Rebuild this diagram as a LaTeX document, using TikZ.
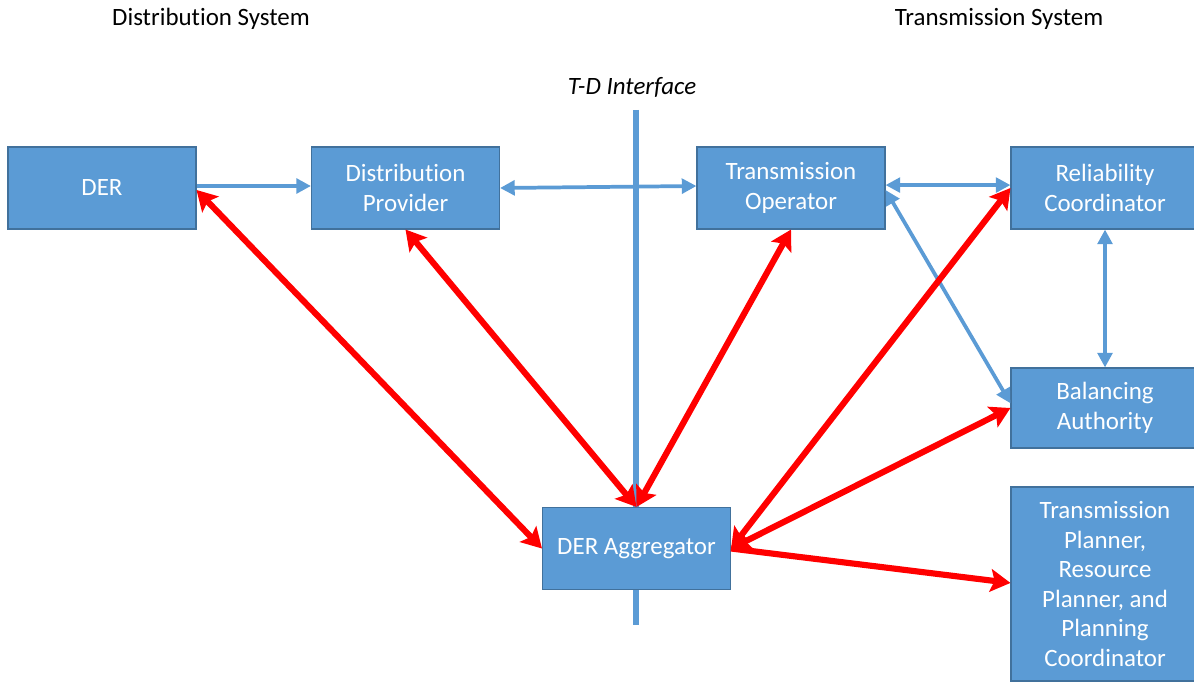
\documentclass[tikz,border=0pt]{standalone}
\usepackage{fontspec}
\setmainfont{Carlito}[Ligatures=NoCommon]
\usetikzlibrary{arrows.meta}
\definecolor{boxblue}{HTML}{5B9BD5}
\definecolor{boxedge}{HTML}{41719C}
\definecolor{linkred}{HTML}{FF0000}
\begin{document}
\begin{tikzpicture}[x=0.75pt,y=-0.75pt,
  box/.style={draw=boxedge,line width=0.8pt,fill=boxblue,text=white,
    minimum width=141pt,minimum height=61.5pt,inner sep=0pt,align=center,
    font=\fontsize{18.7}{22.2}\selectfont},
  head/.style={font=\fontsize{18.7}{22.2}\selectfont,inner sep=0pt},
  bluelink/.style={draw=boxblue,line width=2.8pt},
  bluetip/.style={-{Triangle[length=11pt,width=11pt]}},
  bluetips/.style={{Triangle[length=11pt,width=11pt]}-{Triangle[length=11pt,width=11pt]}},
  redlink/.style={draw=linkred,line width=4.6pt},
  redtip/.style={-{Stealth[length=15pt,width=17pt,inset=3pt]}},
  redtips/.style={{Stealth[length=15pt,width=17pt,inset=3pt]}-{Stealth[length=15pt,width=17pt,inset=3pt]}}]
\useasboundingbox (0,0) rectangle (1194,681);

\node[head] (dsys) at (211,19) {Distribution System};
\node[head] (tsys) at (999,19) {Transmission System};
\node[head,font=\fontsize{18.7}{22.2}\selectfont\itshape] (tdlab) at (632,87) {T-D Interface};

\coordinate (tdtop) at (636,110);
\coordinate (tdbot) at (636,625);
\draw[draw=boxblue,line width=4.2pt] (tdtop) -- (tdbot);

\node[box] (der) at (102,188) {DER};
\node[box] (dp) at (405.5,188) {Distribution\\Provider};
\node[box] (to) at (791,188) {Transmission\\Operator};
\node[box] (rc) at (1105,188) {Reliability\\Coordinator};
\node[box,minimum height=60pt] (ba) at (1105,408) {Balancing\\Authority};
\node[box,minimum height=145.5pt] (tp) at (1105,584) {Transmission\\Planner,\\Resource\\Planner, and\\Planning\\Coordinator};
\node[box] (agg) at (636.5,548.5) {DER Aggregator};

% blue connectors
\draw[bluelink,bluetip] ([yshift=1.5pt]der.east) -- ([yshift=1.5pt]dp.west);
\draw[bluelink,bluetips] (dp.east) -- ([yshift=1.5pt]to.west);
\draw[bluelink,bluetips] ([yshift=2.2pt]to.east) -- ([yshift=2.2pt]rc.west);
\draw[bluelink,bluetips] ([yshift=-1.5pt]to.east) -- ([yshift=3.5pt]ba.west);
\draw[bluelink,bluetips] (rc.south) -- (ba.north);

% red connectors
\draw[redlink,redtips] ([yshift=-1.5pt]der.east) -- (agg.west);
\draw[redlink,redtips] (dp.south) -- (agg.north);
\draw[redlink,redtips] (to.south) -- (agg.north);
\draw[redlink,redtips] (rc.west) -- (agg.east);
\draw[redlink,redtips] (ba.west) -- (agg.east);
\draw[redlink,redtip] (agg.east) -- ([yshift=0.8pt]tp.west);
\end{tikzpicture}
\end{document}
